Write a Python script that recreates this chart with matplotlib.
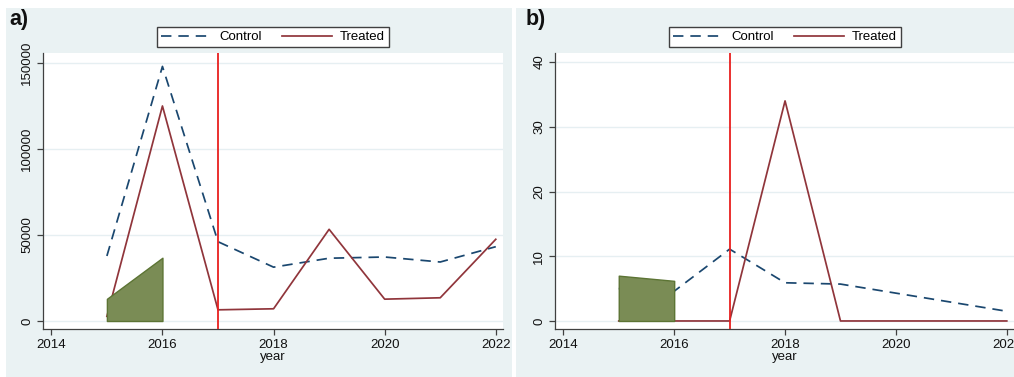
import matplotlib
matplotlib.use("Agg")
import matplotlib.pyplot as plt
from matplotlib.patches import Rectangle
from matplotlib.lines import Line2D

plt.rcParams['font.family'] = ['Liberation Sans', 'DejaVu Sans']

# ---- data ----
years = [2015, 2016, 2017, 2018, 2019, 2020, 2021, 2022]

control_a = [37800, 148000, 46100, 31300, 36500, 37200, 34300, 43200]
treated_a = [2700, 125000, 6500, 7100, 53300, 12700, 13500, 47500]
band_years = [2015, 2016]
band_a = [12900, 36800]

control_b = [5.0, 4.6, 11.1, 5.9, 5.7, 4.3, 2.9, 1.5]
treated_b = [0, 0, 0, 34, 0, 0, 0, 0]
band_b = [7.0, 6.2]

treatment_year = 2017
xticks = [2014, 2016, 2018, 2020, 2022]
yticks_a = [0, 50000, 100000, 150000]
yticks_b = [0, 10, 20, 30, 40]

# ---- styling ----
W, H = 1014, 377
C_CONTROL = '#1a476f'
C_TREATED = '#90353b'
C_VLINE = '#e8201f'
C_FILL = '#7a8c55'
C_FILL_EDGE = '#5c7434'
BG = '#eaf2f3'
GRID = '#e6eff2'
AXC = '#404040'
TXT = '#111111'
FS = 9.5


def px_rect(x0, y0, x1, y1):
    """Figure-fraction rectangle from pixel box (top-left origin)."""
    return [x0 / W, 1 - y1 / H, (x1 - x0) / W, (y1 - y0) / H]


fig = plt.figure(figsize=(W / 100, H / 100), dpi=100, facecolor='white')

# panel backgrounds
for (x0, x1) in [(6, 512), (516, 1014)]:
    r = px_rect(x0, 8, x1, 377)
    fig.patches.append(Rectangle((r[0], r[1]), r[2], r[3], transform=fig.transFigure,
                                 facecolor=BG, edgecolor='none', zorder=-5))


def draw_panel(ax, control, treated, band, yticks, ylim, label, label_x, legend_cx):
    ax.set_zorder(2)
    ax.set_facecolor('white')
    for y in yticks:
        ax.axhline(y, color=GRID, lw=1.0, zorder=1)
    ax.plot(years, control, color=C_CONTROL, lw=1.25, dashes=(6, 4), zorder=3)
    ax.plot(years, treated, color=C_TREATED, lw=1.25, zorder=3)
    ax.fill_between(band_years, 0, band, facecolor=C_FILL, edgecolor=C_FILL_EDGE,
                    lw=1.0, zorder=4)
    ax.axvline(treatment_year, color=C_VLINE, lw=1.3, zorder=5)

    ax.set_xlim(2013.85, 2022.13)
    ax.set_ylim(*ylim)
    ax.set_xticks(xticks)
    ax.set_yticks(yticks)
    ax.set_yticklabels([str(v) for v in yticks], rotation=90, va='center')
    ax.tick_params(direction='out', length=4, width=0.9, color=AXC,
                   labelsize=FS, labelcolor=TXT, pad=3)
    for s in ['top', 'right']:
        ax.spines[s].set_visible(False)
    for s in ['left', 'bottom']:
        ax.spines[s].set_color(AXC)
        ax.spines[s].set_linewidth(0.9)
    ax.set_xlabel('year', fontsize=FS, labelpad=0, color=TXT)

    fig.text(label_x / W, 1 - 19 / H, label, fontsize=15.5, fontweight='bold',
             ha='left', va='center', color=TXT, zorder=3)

    handles = [Line2D([], [], color=C_CONTROL, lw=1.25, dashes=(6, 4)),
               Line2D([], [], color=C_TREATED, lw=1.25)]
    leg = fig.legend(handles, ['Control', 'Treated'], loc='center',
                     bbox_to_anchor=(legend_cx / W, 1 - 37 / H), ncol=2, fontsize=FS,
                     frameon=True, fancybox=False, edgecolor=AXC, framealpha=1,
                     handlelength=3.8, handletextpad=0.6, columnspacing=1.5,
                     borderpad=0.3)
    leg.set_zorder(3)
    leg.get_frame().set_linewidth(1.0)


ax_a = fig.add_axes(px_rect(43, 53, 503, 329))
draw_panel(ax_a, control_a, treated_a, band_a, yticks_a, (-4650, 155800),
           'a)', 9, 273)

ax_b = fig.add_axes(px_rect(555, 53, 1014, 329))
draw_panel(ax_b, control_b, treated_b, band_b, yticks_b, (-1.24, 41.4),
           'b)', 526, 785)

fig.savefig('out.png', dpi=100, facecolor='white')
